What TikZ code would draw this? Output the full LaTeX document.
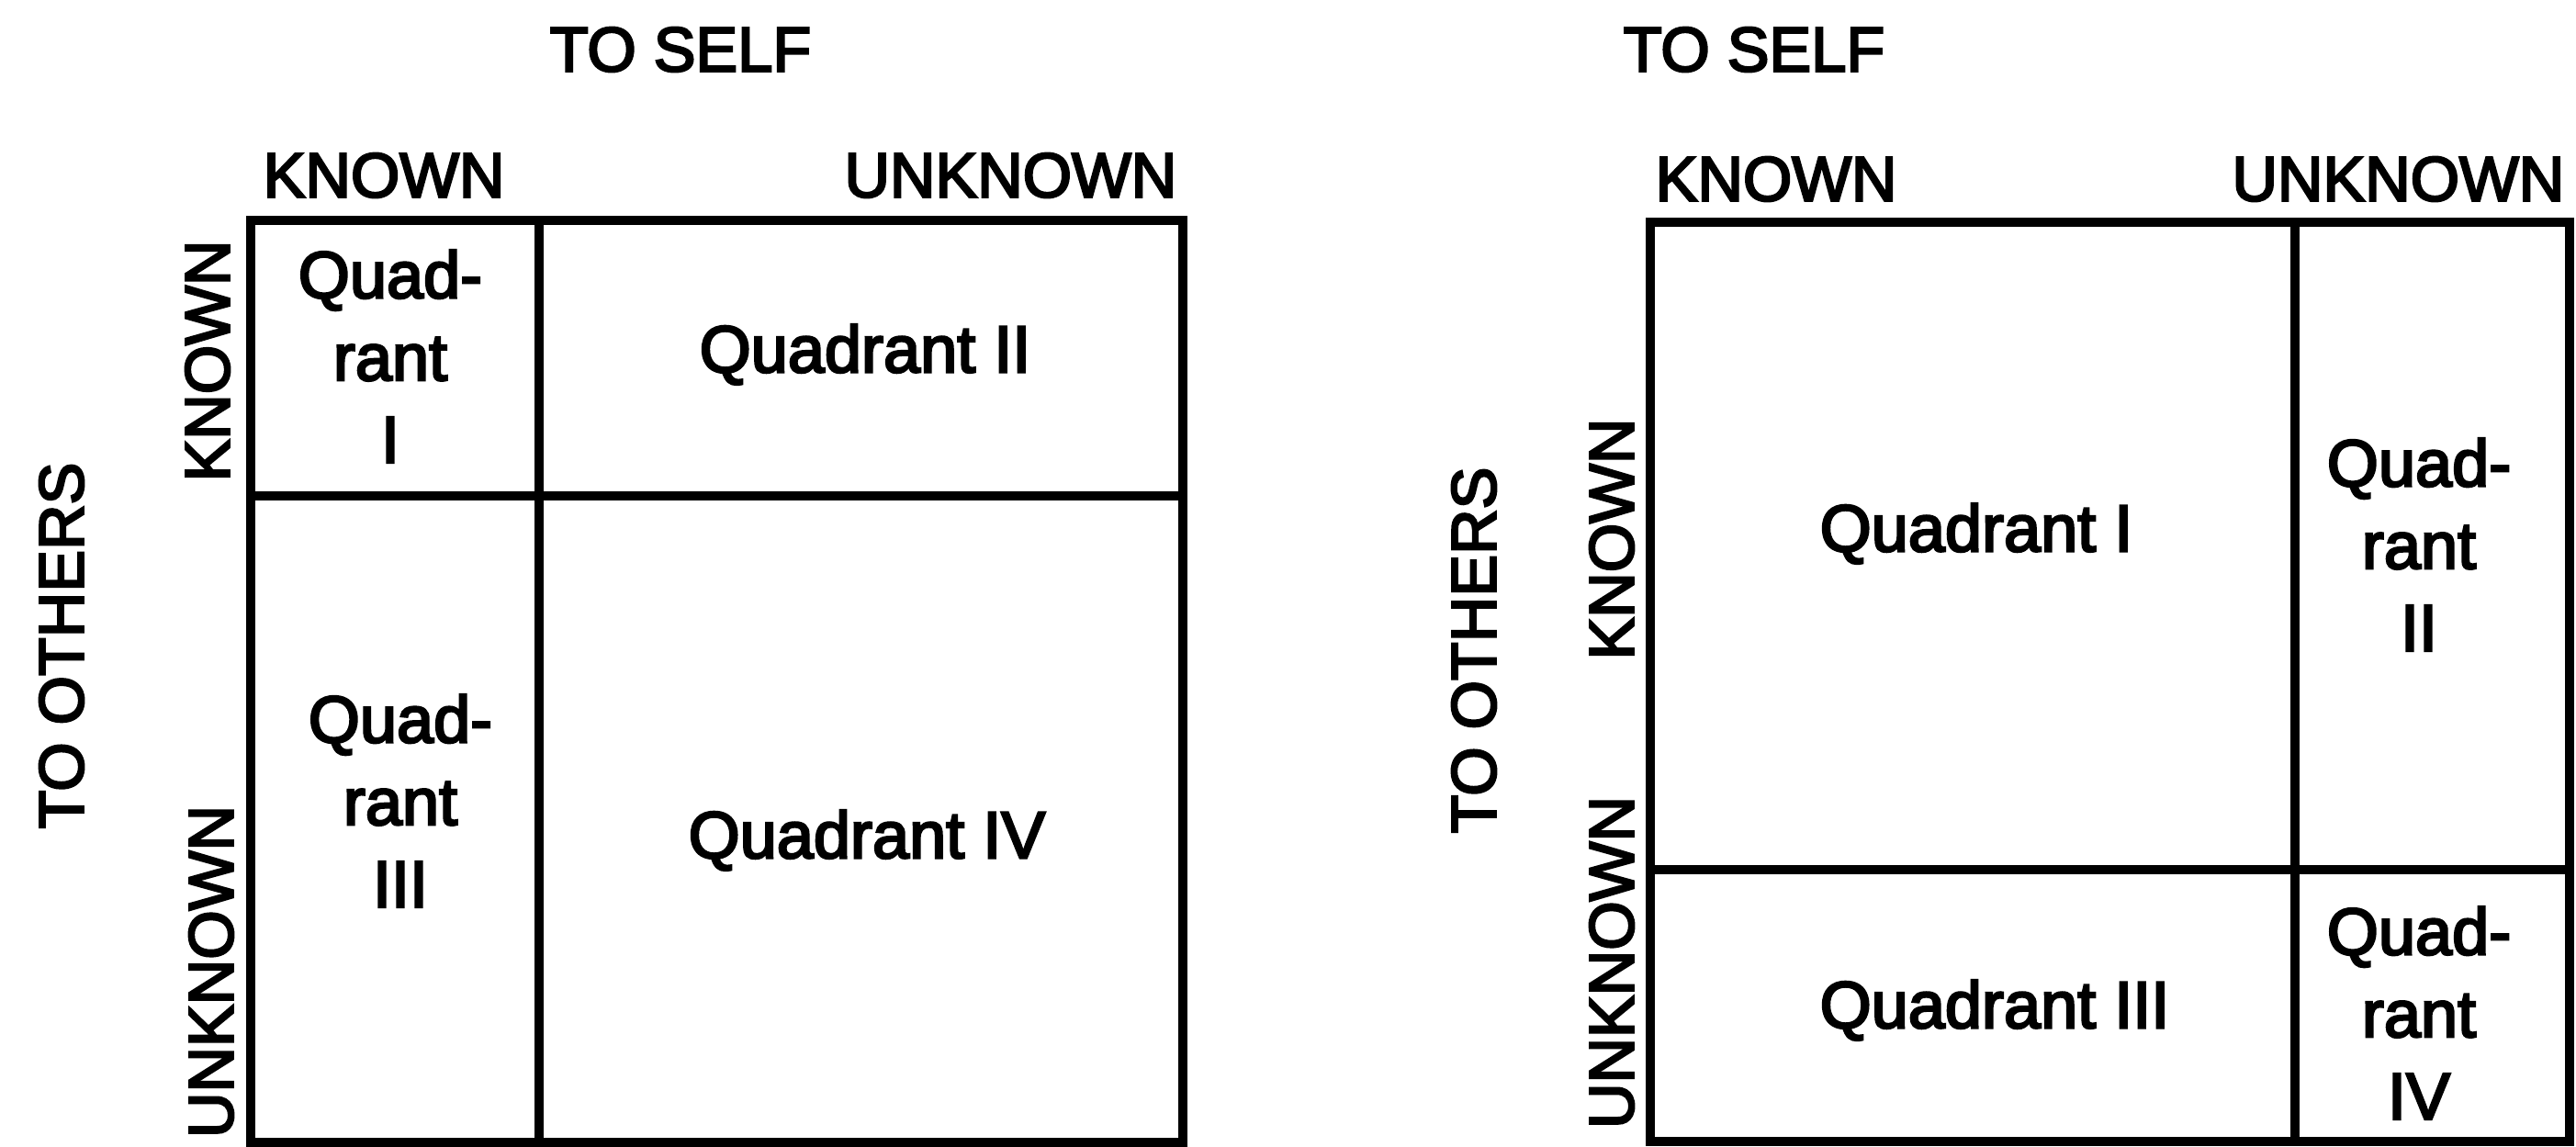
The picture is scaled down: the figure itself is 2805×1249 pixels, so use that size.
\documentclass[tikz,border=0pt]{standalone}
\usepackage{fontspec}
\setmainfont{Liberation Sans}
\newfontfamily\medsans{Liberation Sans}[RawFeature={embolden=3.5}]
\begin{document}
\begin{tikzpicture}[x=0.01cm,y=-0.01cm,
  grid/.style={line width=2.6pt, line cap=rect, line join=miter},
  head/.style={inner sep=0pt, font=\medsans\fontsize{19.5}{23}\selectfont},
  side/.style={inner sep=0pt, rotate=90, font=\medsans\fontsize{19.5}{23}\selectfont},
  cell/.style={inner sep=0pt, align=center, font=\medsans\fontsize{20.5}{25.5}\selectfont}]
\useasboundingbox (0,0) rectangle (2805,1249);

% ---- left matrix ----
\coordinate (La) at (273,240);
\coordinate (Lb) at (1288,1244);
\draw[grid] (La) rectangle (Lb);
\coordinate (Lv1) at (587,240);  \coordinate (Lv2) at (587,1244);
\coordinate (Lh1) at (273,540);  \coordinate (Lh2) at (1288,540);
\draw[grid] (Lv1) -- (Lv2);
\draw[grid] (Lh1) -- (Lh2);

\node[head] (lself) at (741,54) {TO SELF};
\node[head, anchor=west] (lkt) at (286,191) {KNOWN};
\node[head, anchor=east] (lut) at (1282,191) {UNKNOWN};
\node[side] (loth) at (67,703) {TO OTHERS};
\node[side] (lks) at (226,393) {KNOWN};
\node[side] (lus) at (230,1058) {UNKNOWN};

\node[cell] (lq1) at (425,388) {Quad-\\rant\\I};
\node[cell] (lq2) at (942,386) {Quadrant II};
\node[cell] (lq3) at (436,872) {Quad-\\rant\\III};
\node[cell] (lq4) at (944,915) {Quadrant IV};

% ---- right matrix ----
\coordinate (Ra) at (1797,242);
\coordinate (Rb) at (2798,1243);
\draw[grid] (Ra) rectangle (Rb);
\coordinate (Rv1) at (2499,242);  \coordinate (Rv2) at (2499,1243);
\coordinate (Rh1) at (1797,947);  \coordinate (Rh2) at (2798,947);
\draw[grid] (Rv1) -- (Rv2);
\draw[grid] (Rh1) -- (Rh2);

\node[head] (rself) at (1910,54) {TO SELF};
\node[head, anchor=west] (rkt) at (1802,195) {KNOWN};
\node[head, anchor=east] (rut) at (2793,195) {UNKNOWN};
\node[side] (roth) at (1605,708) {TO OTHERS};
\node[side] (rks) at (1755,587) {KNOWN};
\node[side] (rus) at (1755,1048) {UNKNOWN};

\node[cell] (rq1) at (2152,581) {Quadrant I};
\node[cell] (rq2) at (2634,593) {Quad-\\rant\\II};
\node[cell] (rq3) at (2172,1100) {Quadrant III};
\node[cell] (rq4) at (2634,1103) {Quad-\\rant\\IV};
\end{tikzpicture}
\end{document}
